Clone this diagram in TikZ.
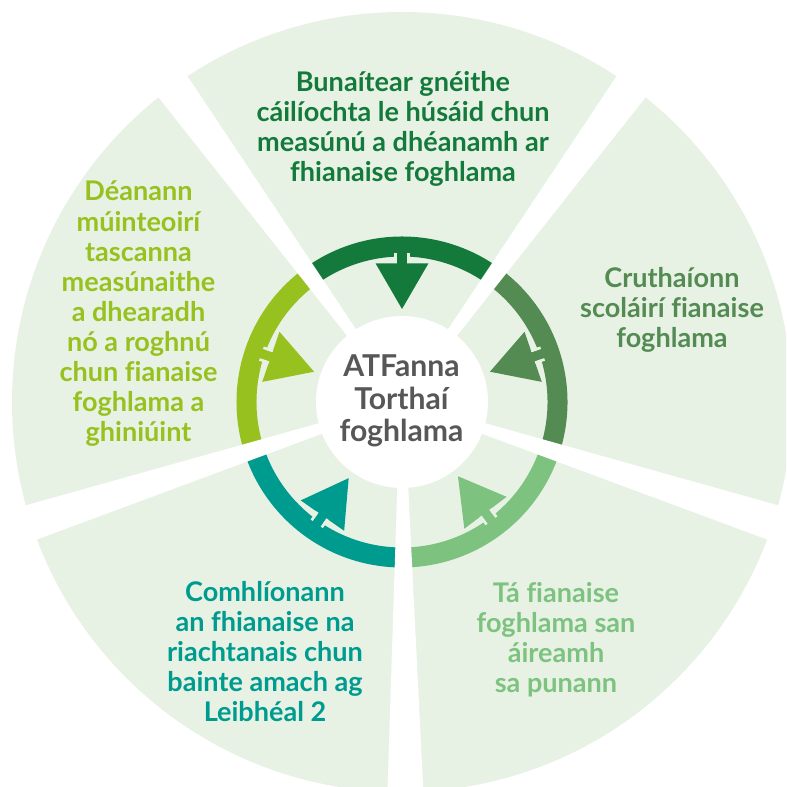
\documentclass[tikz,border=0pt]{standalone}
\usepackage{fontspec}
\setmainfont{Lato}[Ligatures=NoCommon]
\usetikzlibrary{calc}
\definecolor{bg}{HTML}{E7F2E5}
\definecolor{cTop}{HTML}{137A3B}
\definecolor{cRight}{HTML}{538B52}
\definecolor{cBR}{HTML}{7EC280}
\definecolor{cBL}{HTML}{009B8F}
\definecolor{cLeft}{HTML}{96C11F}
\definecolor{cMid}{HTML}{575757}
\tikzset{
  lbl/.style={font=\fontsize{20.3}{22.6}\selectfont\bfseries, align=center, inner sep=0pt, anchor=base},
  midlbl/.style={font=\fontsize{22.6}{24.4}\selectfont\bfseries, align=center, inner sep=0pt, anchor=base, text=cMid},
  ringarc/.style={line width=15pt},
  gapband/.style={fill=white},
  notch/.style={draw=bg, line width=2pt}
}
\begin{document}
\begin{tikzpicture}[x=0.75pt,y=0.75pt]
\useasboundingbox (0,0) rectangle (786,787);
\clip (0,0) rectangle (786,787);
\coordinate (O) at (402,385);
\fill[bg] (O) circle[radius=390];
% coloured ring, one arc per sector
\foreach \a/\c in {54/cTop,-18/cRight,270/cBR,198/cBL,126/cLeft}{
  \draw[ringarc,\c] ($(O)+(\a:155.5)$) arc[start angle=\a, delta angle=72, radius=155.5];
}
% white gaps between sectors
\foreach \g in {54,126,198,270.5,342}{
  \fill[gapband, shift={(O)}, rotate=\g] (0,-2) -- (420,-19.2) -- (420,19.2) -- (0,2) -- cycle;
}
% arrow heads
\foreach \a/\c in {90/cTop,19/cRight,307/cBR,235/cBL,161/cLeft}{
  \begin{scope}[shift={(O)}, rotate=\a-90]
    \fill[\c] (-4.9,137) rectangle (4.9,150);
    \fill[\c] (-26.5,138.7) -- (26.5,138.7) -- (0,93) -- cycle;
    \draw[notch] (-6.2,138.7) -- (-6.2,148.7) (6.2,138.7) -- (6.2,148.7);
  \end{scope}
}
\fill[white] (O) circle[radius=86];
% texts (anchor = baseline of last line)
\node[midlbl] (mid) at (401.5,345) {ATFanna\\Torthaí\\foghlama};
\node[lbl, text=cTop] (ttop) at (403,605) {Bunaítear gnéithe\\cáilíochta le húsáid chun\\measúnú a dhéanamh ar\\fhianaise foghlama};
\node[lbl, text=cRight] (tright) at (672,439) {Cruthaíonn\\scoláirí fianaise\\foghlama};
\node[lbl, text=cLeft] (tleft) at (138.5,345) {Déanann\\múinteoirí\\tascanna\\measúnaithe\\a dhearadh\\nó a roghnú\\chun fianaise\\foghlama a\\ghiniúint};
\node[lbl, text=cBL] (tbl) at (265,65) {Comhlíonann\\an fhianaise na\\riachtanais chun\\bainte amach ag\\Leibhéal 2};
\node[lbl, text=cBR] (tbr) at (556,94) {Tá fianaise\\foghlama san\\áireamh\\sa punann};
\end{tikzpicture}
\end{document}
